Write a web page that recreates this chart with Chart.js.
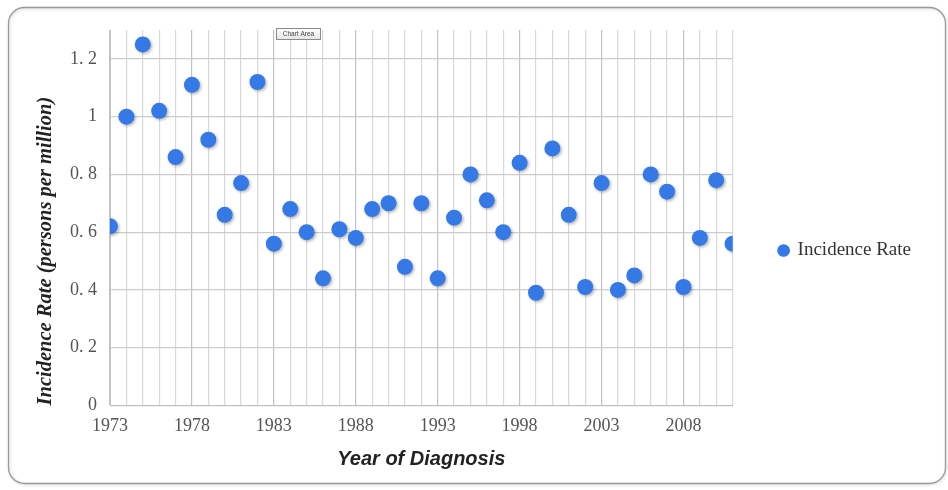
<!DOCTYPE html>
<html>
<head>
<meta charset="utf-8">
<script src="https://cdn.jsdelivr.net/npm/chart.js@4/dist/chart.umd.min.js"></script>
<style>
  html, body { margin: 0; padding: 0; background: #ffffff; }
  #wrap { position: relative; width: 948px; height: 490px; }
</style>
</head>
<body>
<div id="wrap"><canvas id="c"></canvas></div>
<script>
// Year of diagnosis and incidence rate (persons per million)
const years = [1973, 1974, 1975, 1976, 1977, 1978, 1979, 1980, 1981, 1982,
               1983, 1984, 1985, 1986, 1987, 1988, 1989, 1990, 1991, 1992,
               1993, 1994, 1995, 1996, 1997, 1998, 1999, 2000, 2001, 2002,
               2003, 2004, 2005, 2006, 2007, 2008, 2009, 2010, 2011];
const incidenceRate = [0.62, 1.00, 1.25, 1.02, 0.86, 1.11, 0.92, 0.66, 0.77, 1.12,
                       0.56, 0.68, 0.60, 0.44, 0.61, 0.58, 0.68, 0.70, 0.48, 0.70,
                       0.44, 0.65, 0.80, 0.71, 0.60, 0.84, 0.39, 0.89, 0.66, 0.41,
                       0.77, 0.40, 0.45, 0.80, 0.74, 0.41, 0.58, 0.78, 0.56];
const seriesName = 'Incidence Rate';

// Axis ticks
const yTickValues = [0, 0.2, 0.4, 0.6, 0.8, 1, 1.2];
const yTickLabels = ['0', '0. 2', '0. 4', '0. 6', '0. 8', '1', '1. 2'];
const xTickLabels = ['1973', '1978', '1983', '1988', '1993', '1998', '2003', '2008'];

const xTitle = 'Year of Diagnosis';
const yTitle = 'Incidence Rate (persons per million)';

const points = years.map((yr, i) => ({ x: yr, y: incidenceRate[i] }));

// Rounded frame around the whole chart plus the small "Chart Area" tag
const framePlugin = {
  id: 'frame',
  beforeDraw(chart) {
    const ctx = chart.ctx;
    ctx.save();
    ctx.fillStyle = '#ffffff';
    ctx.fillRect(0, 0, chart.width, chart.height);
    ctx.shadowColor = 'rgba(0,0,0,0.18)';
    ctx.shadowBlur = 3;
    ctx.shadowOffsetX = 1;
    ctx.shadowOffsetY = 1;
    ctx.strokeStyle = '#9a9a9a';
    ctx.lineWidth = 1.3;
    ctx.beginPath();
    ctx.roundRect(8.5, 7.5, 937, 476, 16);
    ctx.stroke();
    ctx.restore();
  },
  afterDraw(chart) {
    const ctx = chart.ctx;
    ctx.save();
    const x = 276.5, y = 28.5, w = 44, h = 11;
    const g = ctx.createLinearGradient(0, y, 0, y + h);
    g.addColorStop(0, '#ffffff');
    g.addColorStop(1, '#e4e4e4');
    ctx.fillStyle = g;
    ctx.fillRect(x, y, w, h);
    ctx.strokeStyle = '#8a8a8a';
    ctx.lineWidth = 1;
    ctx.strokeRect(x, y, w, h);
    ctx.fillStyle = '#444';
    ctx.font = '6.5px "Liberation Sans", Arial, sans-serif';
    ctx.textAlign = 'center';
    ctx.textBaseline = 'middle';
    ctx.fillText('Chart Area', x + w / 2, y + h / 2 + 0.5);
    ctx.restore();
  }
};

// Soft drop shadow under the markers
const markerShadow = {
  id: 'markerShadow',
  beforeDatasetsDraw(chart) {
    const ctx = chart.ctx;
    ctx.save();
    ctx.shadowColor = 'rgba(0,0,0,0.28)';
    ctx.shadowBlur = 3;
    ctx.shadowOffsetX = 1.5;
    ctx.shadowOffsetY = 1.5;
  },
  afterDatasetsDraw(chart) {
    chart.ctx.restore();
  }
};

new Chart(document.getElementById('c'), {
  type: 'scatter',
  data: {
    datasets: [{
      label: seriesName,
      data: points,
      backgroundColor: '#3479e6',
      borderColor: '#3479e6',
      borderWidth: 0,
      pointRadius: 8,
      pointHoverRadius: 8,
      pointStyle: 'circle'
    }]
  },
  options: {
    responsive: true,
    maintainAspectRatio: false,
    animation: false,
    events: [],
    layout: { padding: { left: 35, right: 27, top: 30, bottom: 19 } },
    plugins: {
      tooltip: { enabled: false },
      legend: {
        position: 'right',
        labels: {
          usePointStyle: true,
          pointStyle: 'circle',
          boxWidth: 9,
          boxHeight: 9,
          padding: 46.5,
          color: '#333333',
          font: { family: '"Liberation Serif", "Times New Roman", serif', size: 19 }
        }
      }
    },
    scales: {
      x: {
        type: 'linear',
        min: years[0],
        max: years[years.length - 1],
        afterBuildTicks(scale) { scale.ticks = years.map(v => ({ value: v })); },
        ticks: {
          autoSkip: false,
          maxRotation: 0,
          padding: 10,
          color: '#555555',
          font: { family: '"Liberation Serif", "Times New Roman", serif', size: 18 },
          callback(v) { const s = String(v); return xTickLabels.includes(s) ? s : ''; }
        },
        grid: {
          drawTicks: false,
          color(c) {
            const v = c.tick ? c.tick.value : 0;
            return xTickLabels.includes(String(v)) ? '#c2c2c2' : '#d8d8d8';
          },
          lineWidth: 1.2
        },
        border: { display: true, color: '#bdbdbd' },
        title: {
          display: true,
          text: xTitle,
          color: '#222222',
          padding: { top: 0, bottom: 0 },
          font: { family: '"Liberation Sans", Arial, sans-serif', size: 20, weight: 'bold', style: 'italic' }
        }
      },
      y: {
        type: 'linear',
        min: 0,
        max: 1.3,
        afterBuildTicks(scale) { scale.ticks = yTickValues.map(v => ({ value: v })); },
        ticks: {
          padding: 13,
          color: '#555555',
          font: { family: '"Liberation Serif", "Times New Roman", serif', size: 18 },
          callback(v) { const i = yTickValues.findIndex(t => Math.abs(t - v) < 1e-9); return i >= 0 ? yTickLabels[i] : ''; }
        },
        grid: { drawTicks: false, color: '#cccccc', lineWidth: 1.2 },
        border: { display: true, color: '#c4c4c4' },
        title: {
          display: true,
          text: yTitle,
          align: 'start',
          color: '#222222',
          padding: { top: 0, bottom: 1.5 },
          font: { family: '"Liberation Serif", "Times New Roman", serif', size: 20.5, weight: 'bold', style: 'italic', lineHeight: 1 }
        }
      }
    }
  },
  plugins: [framePlugin, markerShadow]
});
</script>
</body>
</html>
